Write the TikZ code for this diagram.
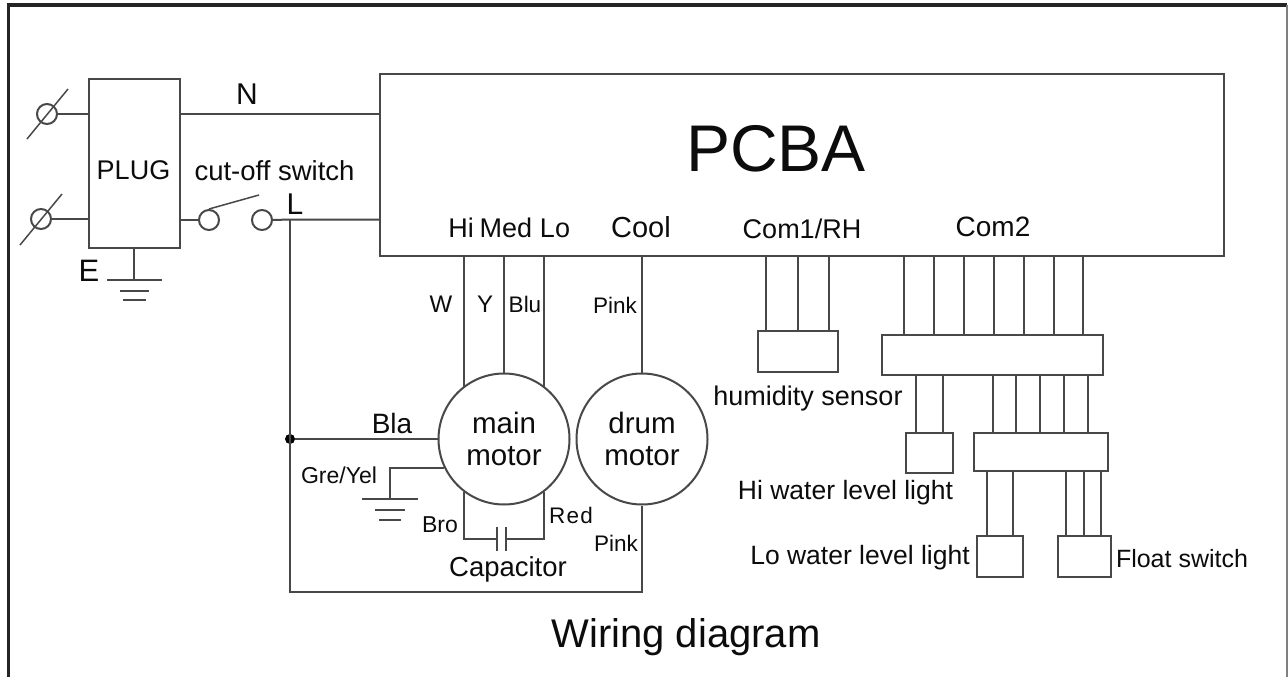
\documentclass[tikz,border=0pt]{standalone}
\usepackage{fontspec}
\setmainfont{Liberation Sans}
\definecolor{wire}{HTML}{484848}
\definecolor{ink}{HTML}{0C0C0C}
\newcommand{\fs}[1]{\fontsize{#1pt}{#1pt}\selectfont}
\tikzset{
  wireline/.style={draw=wire,line width=2pt},
  thinline/.style={draw=wire,line width=1.5pt},
  box/.style={wireline,rectangle,inner sep=0pt,fill=white},
  motorc/.style={wireline,circle,inner sep=0pt,minimum size=131pt,align=center,text=ink,font=\fs{29.5},fill=white},
  ring/.style={wireline,circle,inner sep=0pt,minimum size=20pt},
  lab/.style={anchor=base,inner sep=0pt,text=ink,font=\fs{27}},
  slab/.style={anchor=base,inner sep=0pt,text=ink,font=\fs{22.5}},
  dotc/.style={circle,fill=black,inner sep=0pt,minimum size=10pt},
}
\begin{document}
\begin{tikzpicture}[x=1pt,y=-1pt]
\useasboundingbox (0,0) rectangle (1288,677);
\fill[white] (0,0) rectangle (1288,677);
% frame
\coordinate (fa) at (8.5,677);
\coordinate (fb) at (8.5,5);
\coordinate (fc) at (1287,5);
\coordinate (fd) at (1287,677);
\draw[draw=ink!90,line width=3.5pt] (fa) -- (fb) -- (fc);
\draw[draw=wire!70,line width=1.2pt] (fc) -- (fd);

% boxes
\node[box,minimum width=91pt,minimum height=169pt] (plug) at (134.5,163.5) {};
\node[box,minimum width=844pt,minimum height=181pt] (pcba) at (802,165) {};
\node[box,minimum width=80pt,minimum height=41pt] (hs) at (798,351.5) {};
\node[box,minimum width=221pt,minimum height=40pt] (busa) at (992.5,355) {};
\node[box,minimum width=47pt,minimum height=40pt] (hi) at (929.5,453) {};
\node[box,minimum width=134pt,minimum height=38pt] (busb) at (1041,452) {};
\node[box,minimum width=46pt,minimum height=41pt] (lo) at (1000,556.5) {};
\node[box,minimum width=53pt,minimum height=41pt] (fl) at (1084.5,556.5) {};
\node[motorc] (mm) at (504,439) {main\\[3pt]motor};
\node[motorc] (dm) at (642,439) {drum\\[3pt]motor};

% terminals
\node[ring] (t1) at (47,114) {};
\node[ring] (t2) at (41,219) {};
\node[ring] (s1) at (209,220) {};
\node[ring] (s2) at (262,220) {};
\coordinate (t1a) at (27,139); \coordinate (t1b) at (68,89);
\coordinate (t2a) at (20,245); \coordinate (t2b) at (62,194);
\draw[thinline] (t1a) -- (t1b);
\draw[thinline] (t2a) -- (t2b);
\draw[wireline] (t1) -- (t1 -| plug.west);
\draw[wireline] (t2) -- (t2 -| plug.west);
\coordinate (n1) at (180,114);
\draw[wireline] (n1) -- (n1 -| pcba.west);
\draw[wireline] (s1.west) -- (s1 -| plug.east);
\coordinate (arm) at (259,195);
\draw[thinline] (s1.north) -- (arm);
\coordinate (lj) at (290,219.5);
\draw[wireline] (s2.east) -- (lj) -- (lj -| pcba.west);

% plug earth
\coordinate (g1) at (134,280);
\draw[wireline] (g1 |- plug.south) -- (g1);
\coordinate (g1a) at (107,280); \coordinate (g1b) at (162,280);
\coordinate (g1c) at (120,291); \coordinate (g1d) at (149,291);
\coordinate (g1e) at (123,300); \coordinate (g1f) at (146,300);
\draw[wireline] (g1a) -- (g1b);
\draw[wireline] (g1c) -- (g1d);
\draw[wireline] (g1e) -- (g1f);

% motor feeds
\coordinate (hix) at (464,387); \coordinate (medx) at (504,0); \coordinate (lox) at (544,387); \coordinate (cx) at (642,0);
\draw[wireline] (hix |- pcba.south) -- (hix);
\draw[wireline] (medx |- pcba.south) -- (mm.north);
\draw[wireline] (lox |- pcba.south) -- (lox);
\draw[wireline] (cx |- pcba.south) -- (dm.north);

% L line, node
\node[dotc] (jn) at (290,439) {};
\coordinate (lb) at (290,592);
\draw[wireline] (lj) -- (lb) -- (lb -| dm.south) -- (dm.south);
\draw[wireline] (jn) -- (mm.west);

% earth of main motor
\coordinate (ge) at (390,468);
\coordinate (gm) at (444,468);
\coordinate (gb) at (390,499);
\draw[wireline] (gm) -- (ge) -- (gb);
\coordinate (g2a) at (362,499); \coordinate (g2b) at (418,499);
\coordinate (g2c) at (375,510); \coordinate (g2d) at (405,510);
\coordinate (g2e) at (379,520); \coordinate (g2f) at (401,520);
\draw[wireline] (g2a) -- (g2b);
\draw[wireline] (g2c) -- (g2d);
\draw[wireline] (g2e) -- (g2f);

% capacitor
\coordinate (ca) at (464,492); \coordinate (cb) at (464,539);
\coordinate (cc) at (544,492); \coordinate (cd) at (544,539);
\coordinate (p1) at (497,539); \coordinate (p2) at (506,539);
\coordinate (p1a) at (497,527); \coordinate (p1b) at (497,551);
\coordinate (p2a) at (506,527); \coordinate (p2b) at (506,551);
\draw[wireline] (ca) -- (cb) -- (p1);
\draw[wireline] (cc) -- (cd) -- (p2);
\draw[wireline] (p1a) -- (p1b);
\draw[wireline] (p2a) -- (p2b);

% humidity sensor wires
\foreach \x in {766,798,829} \draw[wireline] (\x,0 |- pcba.south) -- (\x,0 |- hs.north);
% com2 wires
\foreach \x in {904,934,964,994,1024,1054,1083} \draw[wireline] (\x,0 |- pcba.south) -- (\x,0 |- busa.north);
\foreach \x in {916,943} \draw[wireline] (\x,0 |- busa.south) -- (\x,0 |- hi.north);
\foreach \x in {993,1016,1040,1064,1088} \draw[wireline] (\x,0 |- busa.south) -- (\x,0 |- busb.north);
\foreach \x in {987,1013} \draw[wireline] (\x,0 |- busb.south) -- (\x,0 |- lo.north);
\foreach \x in {1066,1084,1101} \draw[wireline] (\x,0 |- busb.south) -- (\x,0 |- fl.north);

% labels
\node[lab,font=\fs{30}] (tn) at (247,104) {N};
\node[lab] (tplug) at (133.5,179) {PLUG};
\node[lab,font=\fs{27.5}] (tcut) at (274.5,180) {cut-off switch};
\node[lab,font=\fs{30}] (tl) at (295,214) {L};
\node[lab,font=\fs{31}] (te) at (89,281) {E};
\node[lab,font=\fs{66}] (tpcba) at (776,171) {PCBA};
\node[lab] (thi) at (461,237) {Hi};
\node[lab] (tmed) at (506,237) {Med};
\node[lab] (tlo) at (555,237) {Lo};
\node[lab,font=\fs{29}] (tcool) at (641,237) {Cool};
\node[lab] (tcom1) at (802,238) {Com1/RH};
\node[lab,font=\fs{28}] (tcom2) at (993,236) {Com2};
\node[slab,font=\fs{24}] (tw) at (441,312) {W};
\node[slab,font=\fs{24}] (ty) at (485,312) {Y};
\node[slab] (tblu) at (525,312) {Blu};
\node[slab] (tpink) at (615,313) {Pink};
\node[lab] (ths) at (808,405) {humidity sensor};
\node[lab,font=\fs{26.5}] (thw) at (845.5,499) {Hi water level light};
\node[lab,font=\fs{26.5}] (tlw) at (860,564) {Lo water level light};
\node[lab,font=\fs{25}] (tfl) at (1182,567) {Float switch};
\node[lab,font=\fs{28}] (tbla) at (392,433) {Bla};
\node[slab,font=\fs{23}] (tgy) at (339,483) {Gre/Yel};
\node[slab,font=\fs{23}] (tbro) at (440,532) {Bro};
\node[slab] (tred) at (571,523) {\addfontfeature{LetterSpace=6}Red};
\node[slab] (tpink2) at (616,551) {Pink};
\node[lab,font=\fs{27.5}] (tcap) at (508,576) {Capacitor};
\node[lab,font=\fs{40}] (twd) at (686,647) {Wiring diagram};
\end{tikzpicture}
\end{document}
